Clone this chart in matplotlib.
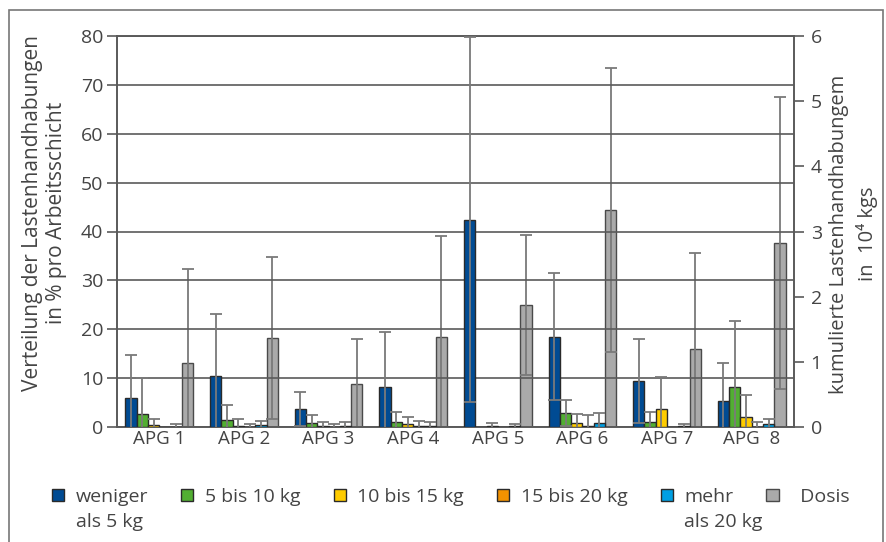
import matplotlib
matplotlib.use("Agg")
import matplotlib.pyplot as plt
import numpy as np
from matplotlib.patches import Rectangle

plt.rcParams['font.family'] = ['Open Sans', 'DejaVu Sans']

# ---- data -------------------------------------------------------------
groups = ["APG 1", "APG 2", "APG 3", "APG 4", "APG 5", "APG 6", "APG 7", "APG  8"]

series_names = ["weniger\nals 5 kg", "5 bis 10 kg", "10 bis 15 kg",
                "15 bis 20 kg", "mehr\nals 20 kg"]
dose_name = "  Dosis"

# share of load handlings per shift (%), mean and standard deviation
lt5 = [6.05, 10.5, 3.7, 8.3, 42.4, 18.5, 9.45, 5.35]
lt5_sd = [8.7, 12.6, 3.5, 11.2, 37.3, 13.0, 8.65, 7.7]
w5_10 = [2.7, 1.45, 0.95, 1.15, 0.0, 2.85, 1.0, 8.2]
w5_10_sd = [7.4, 3.2, 1.55, 2.05, 0.0, 2.65, 2.1, 13.5]
w10_15 = [0.55, 0.25, 0.3, 0.7, 0.2, 0.8, 3.7, 2.05]
w10_15_sd = [1.15, 1.5, 0.7, 1.4, 0.6, 2.0, 6.5, 4.65]
w15_20 = [0.0, 0.15, 0.15, 0.2, 0.0, 0.3, 0.0, 0.1]
w15_20_sd = [0.0, 0.5, 0.55, 1.0, 0.0, 2.2, 0.0, 1.05]
gt20 = [0.1, 0.4, 0.25, 0.3, 0.25, 0.8, 0.2, 0.6]
gt20_sd = [0.5, 0.9, 0.75, 0.8, 0.5, 2.05, 0.55, 1.0]

# cumulative dose in 10^4 kgs (right axis)
dose = [0.985, 1.37, 0.66, 1.38, 1.87, 3.33, 1.20, 2.82]
dose_sd = [1.44, 1.24, 0.70, 1.55, 1.07, 2.17, 1.47, 2.24]

colors = ["#004b93", "#52ae32", "#ffcc00", "#f39200", "#009fe3"]
dose_color = "#aaaaaa"

left_ticks = [0, 10, 20, 30, 40, 50, 60, 70, 80]
right_ticks = [0, 1, 2, 3, 4, 5, 6]

# ---- figure -----------------------------------------------------------
W, H = 886, 542
fig = plt.figure(figsize=(W / 100, H / 100), dpi=100)
fig.patch.set_facecolor("white")

# outer frame
fig.patches.append(Rectangle((9 / W, -0.05), 874 / W, 1.05 - 10 / H,
                             transform=fig.transFigure, fill=False,
                             edgecolor="#777777", linewidth=1.2))

ax = fig.add_axes([117 / W, 1 - 427.3 / H, 677 / W, 391.6 / H])
ax2 = ax.twinx()

text_col = "#444444"
grid_col = "#5a5a5a"
err_col = "#7a7a7a"

x = np.arange(len(groups))
bw = 0.8 / 6
offsets = (np.arange(6) - 2.5) * bw

err_kw = dict(ecolor=err_col, elinewidth=1.3, capsize=4, capthick=1.3)

all_vals = [(lt5, lt5_sd), (w5_10, w5_10_sd), (w10_15, w10_15_sd),
            (w15_20, w15_20_sd), (gt20, gt20_sd)]
handles = []
for i, ((vals, sd), c) in enumerate(zip(all_vals, colors)):
    sd_arr = np.array(sd, dtype=float)
    bars = ax.bar(x + offsets[i], vals, width=bw, color=c,
                  edgecolor="#2a2a2a", linewidth=1.0, zorder=3)
    mask = sd_arr > 0
    ax.errorbar((x + offsets[i])[mask], np.array(vals)[mask], yerr=sd_arr[mask],
                fmt="none", zorder=4, **err_kw)
    handles.append(bars)

dbars = ax2.bar(x + offsets[5], dose, width=bw, color=dose_color,
                edgecolor="#4a4a4a", linewidth=1.0, zorder=3)
ax2.errorbar(x + offsets[5], dose, yerr=dose_sd, fmt="none", zorder=4, **err_kw)
handles.append(dbars)

ax.set_xlim(-0.5, len(groups) - 0.5)
ax.set_ylim(0, 80)
ax2.set_ylim(0, 6)
ax.set_yticks(left_ticks)
ax2.set_yticks(right_ticks)
ax.set_xticks(x)
ax.set_xticklabels(groups)

ax.grid(axis="y", color=grid_col, linewidth=1.2, zorder=0)
ax.set_axisbelow(True)
ax.patch.set_visible(False)
ax2.set_zorder(ax.get_zorder() - 1)
ax.set_zorder(ax2.get_zorder() + 1)

for a in (ax, ax2):
    for s in a.spines.values():
        s.set_color(grid_col)
        s.set_linewidth(1.2)

ax.tick_params(axis="y", direction="out", length=7, width=1.2, color=grid_col,
               labelsize=14, labelcolor=text_col, pad=3)
ax2.tick_params(axis="y", direction="out", length=7, width=1.2, color=grid_col,
                labelsize=14, labelcolor=text_col, pad=5)
ax.tick_params(axis="x", length=0, labelsize=13.5, labelcolor=text_col, pad=2)

ax.set_ylabel("Verteilung der Lastenhandhabungen\nin % pro Arbeitsschicht",
              fontsize=15, color=text_col, linespacing=1.2)
ax.yaxis.set_label_coords((67 - 117) / 677, (427.3 - 213) / 391.6)
ax2.set_ylabel("kumulierte Lastenhandhabungem\nin  10\u2074 kgs",
               fontsize=14.5, color=text_col, linespacing=1.4)
ax2.yaxis.set_label_coords((829 - 117) / 677, (427.3 - 234) / 391.6)

# legend: first line of each entry goes into the legend, the second line of
# the two-line entries is set directly beneath it
first_lines = [n.split("\n")[0] for n in series_names] + [dose_name]
second_lines = [n.split("\n")[1] if "\n" in n else "" for n in series_names] + [""]

leg = fig.legend(handles, first_lines, loc="center", bbox_to_anchor=(0.509, 1 - 497 / H),
                 ncol=6, frameon=False, fontsize=14, labelcolor=text_col,
                 handlelength=0.62, handleheight=0.62, handletextpad=0.6,
                 columnspacing=1.7)

fig.canvas.draw()
renderer = fig.canvas.get_renderer()
for t, extra in zip(leg.get_texts(), second_lines):
    if not extra:
        continue
    bb = t.get_window_extent(renderer)
    fig.text(bb.x0 / W, (bb.y0 - 25) / H, extra, fontsize=14, color=text_col,
             ha="left", va="bottom")

fig.savefig("out.png", dpi=100)
